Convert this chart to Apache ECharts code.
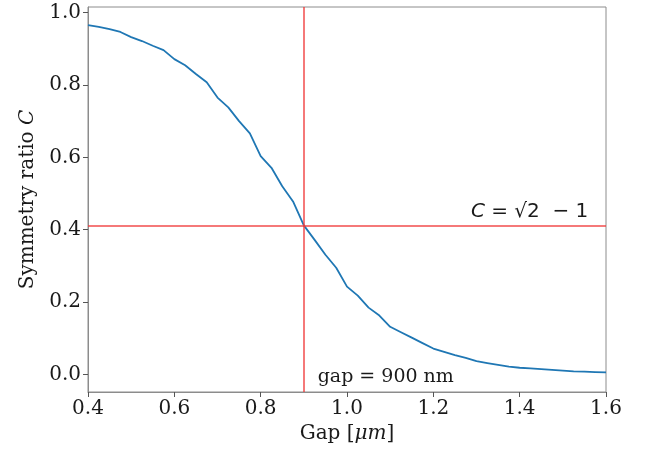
<!DOCTYPE html>
<html>
<head>
<meta charset="utf-8">
<script src="https://cdn.jsdelivr.net/npm/echarts@6/dist/echarts.min.js"></script>
<style>
  html, body { margin: 0; padding: 0; background: #fff; }
  #chart { width: 645px; height: 452px; }
</style>
</head>
<body>
<div id="chart"></div>
<script>
// gap in um, symmetry ratio C
const gaps = [0.4, 0.425, 0.45, 0.475, 0.5, 0.525, 0.55, 0.575, 0.6, 0.625, 0.65, 0.675,
  0.7, 0.725, 0.75, 0.775, 0.8, 0.825, 0.85, 0.875, 0.9, 0.925, 0.95, 0.975,
  1.0, 1.025, 1.05, 1.075, 1.1, 1.125, 1.15, 1.175, 1.2, 1.225, 1.25, 1.275,
  1.3, 1.325, 1.35, 1.375, 1.4, 1.425, 1.45, 1.475, 1.5, 1.525, 1.55, 1.575, 1.6]
const ratio = [0.965, 0.96, 0.954, 0.946, 0.932, 0.921, 0.908, 0.896, 0.871, 0.854, 0.83, 0.807,
  0.765, 0.738, 0.7, 0.666, 0.603, 0.571, 0.52, 0.478, 0.412, 0.372, 0.331, 0.295,
  0.243, 0.218, 0.185, 0.163, 0.132, 0.117, 0.102, 0.087, 0.072, 0.063, 0.054, 0.046,
  0.037, 0.032, 0.027, 0.022, 0.019, 0.017, 0.015, 0.013, 0.011, 0.009, 0.008, 0.007, 0.006]
const yTicks = [0.0, 0.2, 0.4, 0.6, 0.8, 1.0]
const gapMark = 0.9
const cMark = Math.SQRT2 - 1

const serif = '"DejaVu Serif", serif'
const sans = '"DejaVu Sans", sans-serif'
const ink = '#1a1a1a'
const chart = echarts.init(document.getElementById('chart'))
chart.setOption({
  animation: false,
  grid: { left: 88, right: 39, top: 7, bottom: 60, show: true, borderColor: '#8c8c8c', borderWidth: 1 },
  xAxis: {
    type: 'value',
    min: 0.4,
    max: 1.6,
    interval: 0.2,
    name: 'Gap [{i|μm}]',
    nameLocation: 'middle',
    nameGap: 32,
    nameTextStyle: {
      fontFamily: serif, fontSize: 20, color: ink,
      rich: { i: { fontFamily: serif, fontStyle: 'italic', fontSize: 20, color: ink } },
    },
    axisLine: { onZero: false, lineStyle: { color: '#8c8c8c' } },
    axisTick: { inside: false, length: 5, lineStyle: { color: '#555' } },
    axisLabel: { fontFamily: serif, fontSize: 20, color: ink, margin: 7, formatter: v => v.toFixed(1) },
    splitLine: { show: false },
  },
  yAxis: {
    type: 'value',
    min: -0.048,
    max: 1.015,
    name: 'Symmetry ratio {i|C}',
    nameLocation: 'middle',
    nameGap: 44,
    nameTextStyle: {
      fontFamily: serif, fontSize: 20, color: ink,
      rich: { i: { fontFamily: serif, fontStyle: 'italic', fontSize: 20, color: ink } },
    },
    axisLine: { show: true, onZero: false, lineStyle: { color: '#8c8c8c' } },
    axisTick: { show: true, inside: false, length: 5, customValues: yTicks, lineStyle: { color: '#555' } },
    axisLabel: { fontFamily: serif, fontSize: 20, color: ink, margin: 7, customValues: yTicks, formatter: v => v.toFixed(1) },
    splitLine: { show: false },
  },
  series: [{
    type: 'line',
    data: gaps.map((g, i) => [g, ratio[i]]),
    showSymbol: false,
    lineStyle: { color: '#1f77b4', width: 1.8 },
    z: 3,
    markLine: {
      silent: true,
      symbol: 'none',
      label: { show: false },
      lineStyle: { color: '#f03838', width: 1.5, type: 'solid', opacity: 0.9 },
      data: [{ xAxis: gapMark }, { yAxis: cMark }],
      z: 4,
    },
    markPoint: {
      silent: true,
      symbol: 'circle',
      symbolSize: 0,
      data: [
        {
          coord: [0.932, -0.008],
          label: {
            show: true, position: 'right', distance: 0,
            formatter: 'gap = 900 nm',
            fontFamily: serif, fontSize: 19, color: ink,
          },
        },
        {
          coord: [1.287, cMark + 0.036],
          label: {
            show: true, position: 'right', distance: 0,
            formatter: '{i|C} = √2  − 1',
            fontFamily: sans, fontSize: 20, color: ink,
            rich: { i: { fontFamily: sans, fontStyle: 'italic', fontSize: 20, color: ink } },
          },
        },
      ],
    },
  }],
})
</script>
</body>
</html>
